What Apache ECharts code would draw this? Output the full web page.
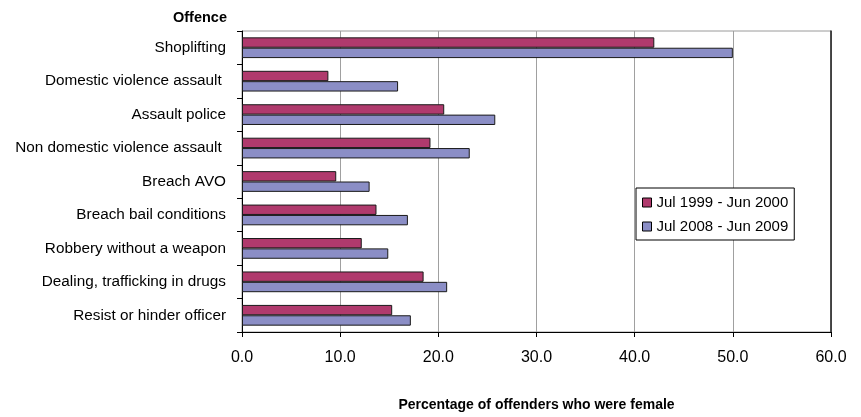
<!DOCTYPE html>
<html>
<head>
<meta charset="utf-8">
<script src="https://cdn.jsdelivr.net/npm/echarts@6/dist/echarts.min.js"></script>
<style>html,body{margin:0;padding:0;background:#fff;}#c{width:861px;height:417px;}</style>
</head>
<body>
<div id="c"></div>
<script>
var categories = ['Shoplifting', 'Domestic violence assault ', 'Assault police', 'Non domestic violence assault ', 'Breach AVO', 'Breach bail conditions', 'Robbery without a weapon', 'Dealing, trafficking in drugs', 'Resist or hinder officer'];
var series1999 = [42.0, 8.8, 20.6, 19.2, 9.6, 13.7, 12.2, 18.5, 15.3];
var series2008 = [50.0, 15.9, 25.8, 23.2, 13.0, 16.9, 14.9, 20.9, 17.2];
var seriesNames = ['Jul 1999 - Jun 2000', 'Jul 2008 - Jun 2009'];
var xTicks = { min: 0, max: 60, interval: 10 };

var font = 'Liberation Sans, Arial, sans-serif';
var chart = echarts.init(document.getElementById('c'));
chart.setOption({
  animation: false,
  textStyle: { fontFamily: font },
  grid: { left: 242, right: 30, top: 31, bottom: 85, show: true, borderColor: '#9a9a9a', borderWidth: 1 },
  graphic: [{
    type: 'text', x: 227, y: 18,
    style: { text: 'Offence', textAlign: 'right', textVerticalAlign: 'middle', font: 'bold 14.5px ' + font, fill: '#000' }
  }],
  legend: {
    orient: 'vertical', left: 636, top: 188, itemWidth: 9, itemHeight: 9, itemGap: 9,
    borderColor: '#000', borderWidth: 1, backgroundColor: '#fff',
    padding: [7, 6, 6, 6],
    textStyle: { fontSize: 15, color: '#000', fontFamily: font, padding: [0, 0, 0, 0] },
    itemStyle: { borderColor: '#000', borderWidth: 1 },
    data: [{ name: seriesNames[0], icon: 'rect' }, { name: seriesNames[1], icon: 'rect' }]
  },
  xAxis: {
    type: 'value', min: xTicks.min, max: xTicks.max, interval: xTicks.interval,
    name: 'Percentage of offenders who were female', nameLocation: 'middle', nameGap: 66,
    nameTextStyle: { fontWeight: 'bold', fontSize: 14, color: '#000', fontFamily: font },
    axisLine: { show: true, lineStyle: { color: '#000', width: 1 } },
    axisTick: { show: true, length: 5, lineStyle: { color: '#000' } },
    axisLabel: { fontSize: 16, color: '#000', margin: 18, formatter: function (v) { return v.toFixed(1); } },
    splitLine: { show: true, lineStyle: { color: '#a0a0a0', width: 1 } }
  },
  yAxis: [{
    type: 'category', data: categories, inverse: true,
    axisLine: { show: true, lineStyle: { color: '#000', width: 1 } },
    axisTick: { show: true, length: 5, alignWithLabel: false, lineStyle: { color: '#000' } },
    axisLabel: { fontSize: 15.3, color: '#000', margin: 16 },
    splitLine: { show: false }
  }, {
    type: 'category', data: categories, inverse: true, position: 'right',
    axisLine: { show: true, lineStyle: { color: '#222', width: 1.5 } },
    axisTick: { show: false }, axisLabel: { show: false }, splitLine: { show: false }
  }],
  series: [
    { name: seriesNames[0], type: 'bar', data: series1999, barGap: '0%', barCategoryGap: '38%',
      itemStyle: { color: '#B03A6D', borderColor: '#1a1a1a', borderWidth: 1 } },
    { name: seriesNames[1], type: 'bar', data: series2008, barGap: '0%', barCategoryGap: '38%',
      itemStyle: { color: '#8B8EC6', borderColor: '#1a1a1a', borderWidth: 1 } }
  ]
});
</script>
</body>
</html>
